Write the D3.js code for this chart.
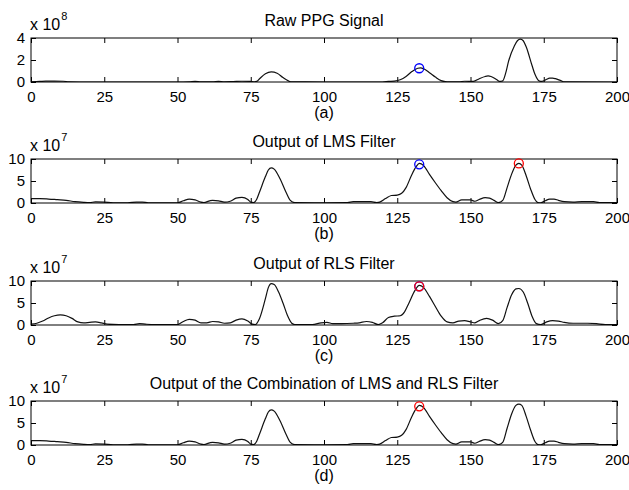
<!DOCTYPE html>
<html><head><meta charset="utf-8">
<script src="https://cdn.jsdelivr.net/npm/d3@7"></script>
<style>
html,body{margin:0;padding:0;background:#fff;}
svg text{font-family:"Liberation Sans",Arial,sans-serif;fill:#000;}
</style></head>
<body><svg id="c" width="629" height="490"></svg>
<script>
// ---------- data ----------
const titles = ["Raw PPG Signal","Output of LMS Filter","Output of RLS Filter","Output of the Combination of LMS and RLS Filter"];
const subLabels = ["(a)","(b)","(c)","(d)"];
const exponents = ["8","7","7","7"];
const xTicks = [0,25,50,75,100,125,150,175,200];
const yTicksRaw = [0,2,4];
const yTicksOut = [0,5,10];
const yMaxes = [4,10,10,10];

// Raw PPG (x 1e8)
const rawSeries = [[0,0.02],[3,0.05],[5,0.08],[8,0.08],[11,0.07],[13,0.02],[20,0],[50,0],[54,0.02],[56,0.06],[58,0.02],[62,0.02],[64,0.06],[66,0.02],[69,0.04],[72,0.07],[75,0.05],[76,0.02],[77,0.05],[78,0.3],[80,0.75],[82,0.92],[84,0.8],[86,0.4],[88,0.08],[89,0.01],[100,0],[120,0],[122,0.05],[124,0.08],[126,0.2],[128,0.5],[130,0.95],[132,1.25],[133,1.28],[134,1.2],[136,0.85],[138,0.45],[140,0.12],[142,0.02],[146,0.02],[148,0.07],[151,0.06],[153,0.3],[155,0.5],[156,0.55],[157,0.5],[159,0.2],[160,0.05],[161,0.1],[162,0.8],[163,1.9],[165,3.3],[166,3.75],[167,3.9],[168,3.75],[169,3.2],[171,1.5],[172,0.7],[173,0.2],[174,0.05],[175,0.1],[176,0.25],[177,0.35],[178,0.35],[179,0.3],[181,0.1],[182,0.02],[200,0]];

// LMS output (x 1e7)
const lmsSeries = [[0,1.0],[3,1.0],[6,0.9],[9,0.75],[12,0.6],[15,0.3],[18,0.15],[20,0.1],[22,0.25],[25,0.2],[28,0.05],[33,0.05],[36,0.2],[38,0.2],[40,0.05],[50,0.05],[52,0.5],[54,0.9],[56,0.7],[58,0.2],[59,0.1],[61,0.5],[62,0.6],[64,0.5],[66,0.2],[68,0.4],[70,1.1],[72,1.3],[74,0.8],[75,0.2],[76,0.1],[77,0.8],[78,2.5],[80,6.0],[81,7.5],[82,8.0],[83,7.7],[85,5.5],[87,2.5],[88.5,0.6],[90,0.1],[100,0.05],[108,0.1],[110,0.3],[116,0.3],[118,0.1],[119,0.2],[121,1.0],[123,1.7],[125,1.8],[126.5,2.2],[128,3.5],[130,6.5],[131.5,8.3],[132.5,9.0],[134,8.5],[136,6.5],[138,4.6],[140,2.8],[142,1.2],[144,0.3],[145,0.2],[147,0.7],[150,0.7],[151.5,0.4],[153,0.8],[155,1.2],[156.5,1.1],[158,0.6],[159.5,0.1],[161,0.6],[162.5,3.5],[164,6.5],[165.5,8.6],[166.5,9.0],[167.5,8.6],[169,6.2],[170.5,3.2],[172,0.8],[173,0.1],[174,0.05],[175.5,0.5],[177,0.9],[178.5,0.9],[180,0.6],[182,0.3],[185,0.2],[188,0.3],[192,0.3],[194,0.1],[200,0.1]];

// RLS output (x 1e7)
const rlsSeries = [[0,0.2],[2,0.4],[4,0.9],[6,1.6],[8,2.1],[10,2.3],[12,2.1],[14,1.5],[16,0.7],[18,0.5],[20,0.6],[22,0.7],[24,0.5],[26,0.2],[30,0.1],[35,0.1],[37,0.3],[39,0.2],[42,0.1],[50,0.1],[52,0.8],[54,1.3],[56,1.1],[58,0.5],[60,0.5],[62,0.8],[64,0.7],[66,0.4],[68,0.5],[70,1.1],[72,1.4],[74,0.9],[75.5,0.2],[76.5,0.1],[78,1.5],[80,6.0],[81,8.5],[82,9.4],[83,9.2],[84.5,7.5],[86,5.0],[87.5,2.2],[89,0.4],[90,0.1],[96,0.1],[99,0.5],[101,0.6],[103,0.3],[106,0.3],[110,0.4],[112,0.5],[114.5,0.8],[116.5,0.6],[118.5,0.1],[120,0.5],[122,1.7],[124,2.0],[126,2.1],[127.5,3.0],[129,5.0],[131,7.8],[132.5,9.0],[134,8.5],[136,6.5],[138,4.2],[140,2.0],[142,0.7],[144,0.5],[146,0.9],[148,1.0],[150,0.7],[151.5,0.5],[153,1.0],[155.5,1.5],[157.5,1.1],[159.5,0.3],[161,1.0],[162.5,4.0],[164,6.8],[165.5,8.2],[166.5,8.3],[168,7.5],[169.5,5.0],[171,2.0],[172.5,0.3],[174,0.1],[176,0.7],[178,1.0],[180,0.9],[182,0.6],[185,0.4],[190,0.4],[193,0.3],[196,0.1],[200,0.1]];

// Combination output (x 1e7)
const combSeries = [[0,1.0],[3,1.0],[6,0.9],[9,0.75],[12,0.6],[15,0.3],[18,0.15],[20,0.1],[22,0.25],[25,0.2],[28,0.05],[33,0.05],[36,0.2],[38,0.2],[40,0.05],[50,0.05],[52,0.5],[54,0.9],[56,0.7],[58,0.2],[59,0.1],[61,0.5],[62,0.6],[64,0.5],[66,0.2],[68,0.4],[70,1.1],[72,1.3],[74,0.8],[75,0.2],[76,0.1],[77,0.8],[78,2.5],[80,6.0],[81,7.5],[82,8.0],[83,7.7],[85,5.5],[87,2.5],[88.5,0.6],[90,0.1],[100,0.05],[108,0.1],[110,0.3],[116,0.3],[118,0.1],[119,0.2],[121,1.0],[123,1.7],[125,1.8],[126.5,2.2],[128,3.5],[130,6.5],[131.5,8.3],[132.5,9.0],[134,8.5],[136,6.5],[138,4.6],[140,2.8],[142,1.2],[144,0.3],[145,0.2],[147,0.7],[150,0.7],[151.5,0.4],[153,0.8],[155,1.2],[156.5,1.1],[158,0.6],[159.5,0.1],[161,0.6],[162.5,3.8],[164,7.0],[165.5,9.0],[166.5,9.3],[167.5,9.0],[169,6.5],[170.5,3.4],[172,0.8],[173,0.1],[174,0.05],[175.5,0.5],[177,0.9],[178.5,0.9],[180,0.6],[182,0.3],[185,0.2],[188,0.3],[192,0.3],[194,0.1],[200,0.1]];

const seriesList = [rawSeries, lmsSeries, rlsSeries, combSeries];

// peak markers per subplot: [x, y, color]
const markers = [
  [[132.5,1.25,"blue"]],
  [[132.5,8.8,"blue"],[166.5,9.0,"red"]],
  [[132.5,8.8,"blue"],[132.5,8.8,"red"]],
  [[132.5,8.8,"red"]]
];

// ---------- layout ----------
const svg = d3.select("#c");
const left = 31, right = 617, h = 44;
const tops = [38,159,281,401];
const x = d3.scaleLinear().domain([0,200]).range([left,right]);
const fmt = d3.format("d");

tops.forEach((top,i)=>{
  const y = d3.scaleLinear().domain([0,yMaxes[i]]).range([top+h, top]);
  const yt = i===0 ? yTicksRaw : yTicksOut;
  const g = svg.append("g");
  const clipId = "clip"+i;
  svg.append("clipPath").attr("id",clipId).append("rect")
    .attr("x",left).attr("y",top-6).attr("width",right-left).attr("height",h+6);

  // axes with inward ticks
  g.append("g").attr("transform",`translate(0,${top+h})`)
    .call(d3.axisBottom(x).tickValues(xTicks).tickFormat(fmt).tickSizeInner(-5).tickSizeOuter(0).tickPadding(9));
  g.append("g").attr("transform",`translate(0,${top})`)
    .call(d3.axisTop(x).tickValues(xTicks).tickSizeInner(-5).tickSizeOuter(0).tickFormat(""));
  g.append("g").attr("transform",`translate(${left},0)`)
    .call(d3.axisLeft(y).tickValues(yt).tickFormat(fmt).tickSizeInner(-5).tickSizeOuter(0).tickPadding(6));
  g.append("g").attr("transform",`translate(${right},0)`)
    .call(d3.axisRight(y).tickValues(yt).tickSizeInner(-5).tickSizeOuter(0).tickFormat(""));
  g.selectAll(".domain").remove();
  g.selectAll(".tick line").attr("stroke","#000");
  g.selectAll(".tick text").attr("font-size","15px").attr("fill","#000")
    .attr("font-family","'Liberation Sans',Arial,sans-serif");

  // curve
  g.append("path").datum(seriesList[i])
    .attr("clip-path",`url(#${clipId})`)
    .attr("fill","none").attr("stroke","#111").attr("stroke-width",1.2)
    .attr("d", d3.line().x(d=>x(d[0])).y(d=>y(d[1])).curve(d3.curveMonotoneX));

  // box
  g.append("rect").attr("x",left).attr("y",top).attr("width",right-left).attr("height",h)
    .attr("fill","none").attr("stroke","#000").attr("stroke-width",1);

  // markers
  markers[i].forEach(m=>{
    g.append("circle").attr("cx",x(m[0])).attr("cy",y(m[1])).attr("r",4.5)
      .attr("fill","none").attr("stroke",m[2]).attr("stroke-width",1.3);
  });

  // title
  g.append("text").attr("x",(left+right)/2).attr("y",top-12).attr("text-anchor","middle")
    .attr("font-size","16px").text(titles[i]);
  // exponent
  const ex = g.append("text").attr("x",30).attr("y",top-8).attr("font-size","16px");
  ex.append("tspan").text("x 10");
  ex.append("tspan").attr("dy",-10).attr("dx",1).attr("font-size","11px").text(exponents[i]);
  // sub label
  g.append("text").attr("x",(left+right)/2).attr("y",top+h+36).attr("text-anchor","middle")
    .attr("font-size","16px").text(subLabels[i]);
});
</script></body></html>
